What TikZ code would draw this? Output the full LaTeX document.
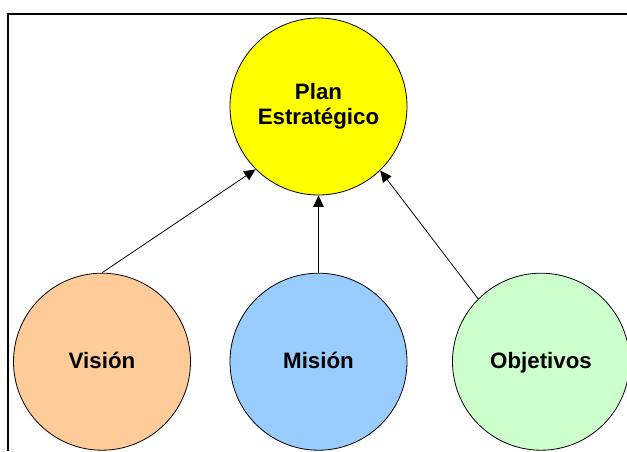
\documentclass[tikz,border=0pt]{standalone}
\usepackage{fontspec}
\setmainfont{Liberation Sans}
\usetikzlibrary{arrows.meta}
\definecolor{planyellow}{HTML}{FFFF00}
\definecolor{peach}{HTML}{FFCC99}
\definecolor{skyblue}{HTML}{99CCFF}
\definecolor{palegreen}{HTML}{CCFFCC}
\tikzset{
  bubble/.style={circle, draw=black, line width=0.8pt, minimum size=177pt, inner sep=0pt,
    font=\fontsize{22.3}{25}\selectfont\bfseries, align=center},
  oneline/.style={text height=15.5pt, text depth=2pt},
  link/.style={line width=0.8pt, -{Triangle[length=11.5pt,width=10.5pt]}},
  frame/.style={line width=2pt}
}
\begin{document}
\begin{tikzpicture}[x=1pt,y=-1pt]
  \useasboundingbox (0,0) rectangle (627,451);
  % frame edges along the top and left
  \coordinate (fa) at (627,14);
  \coordinate (fb) at (8,14);
  \coordinate (fc) at (8,451);
  \draw[frame] (fa) -- (fb) -- (fc);
  % circles
  \node[bubble, fill=planyellow] (plan) at (318.5,106.5) {Plan\\Estratégico};
  \node[bubble, oneline, fill=peach] (vision) at (102,361.7) {Visión};
  \node[bubble, oneline, fill=skyblue] (mision) at (318.5,361.7) {Misión};
  \node[bubble, oneline, fill=palegreen] (objetivos) at (541,361.7) {Objetivos};
  % connectors
  \draw[link] (vision.north) -- (plan.225);
  \draw[link] (mision.north) -- (plan.south);
  \draw[link] (objetivos.135) -- (plan.314);
\end{tikzpicture}
\end{document}
